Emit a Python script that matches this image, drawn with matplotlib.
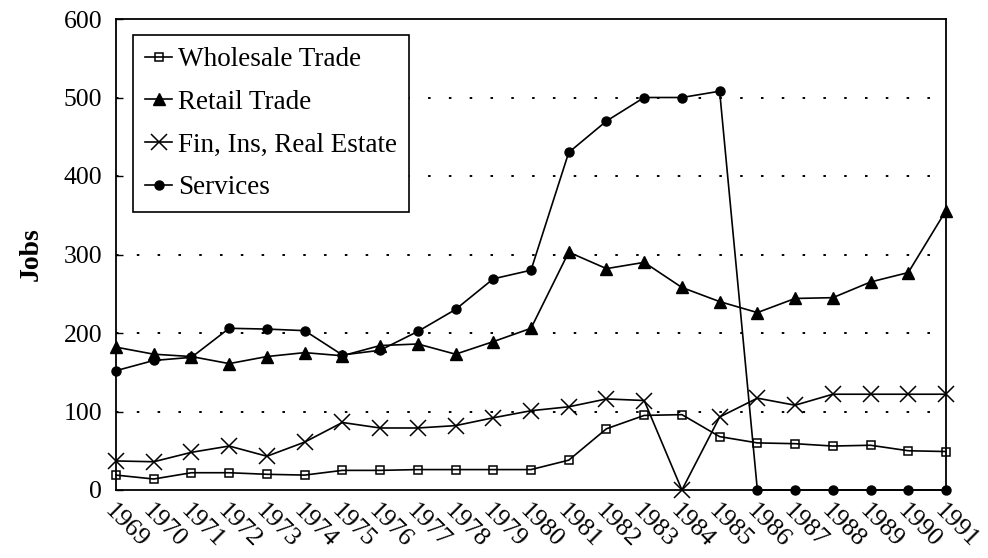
import matplotlib
matplotlib.use("Agg")
import matplotlib.pyplot as plt
from matplotlib.lines import Line2D

years = list(range(1969, 1992))
year_labels = [str(y) for y in years]

wholesale = [19, 14, 22, 22, 20, 19, 25, 25, 26, 26, 26, 26, 38, 78, 95, 96, 68, 60, 59, 56, 57, 50, 49]
retail = [182, 173, 170, 161, 170, 175, 171, 184, 186, 173, 189, 206, 303, 282, 290, 258, 240, 226, 244, 245, 265, 277, 356]
fire = [37, 36, 48, 56, 43, 61, 86, 79, 79, 82, 92, 101, 106, 116, 114, 0, 93, 117, 108, 122, 122, 122, 122]
services = [152, 165, 169, 206, 205, 203, 172, 178, 202, 230, 269, 280, 430, 470, 500, 500, 508, 0, 0, 0, 0, 0, 0]

series_names = ["Wholesale Trade", "Retail Trade", "Fin, Ins, Real Estate", "Services"]
y_ticks = [0, 100, 200, 300, 400, 500, 600]

plt.rcParams['font.family'] = ['Liberation Serif', 'DejaVu Serif']

fig = plt.figure(figsize=(9.88, 5.58), dpi=100)
ax = fig.add_axes([116/988, 1-490/558, (946-116)/988, (490-19)/558])

# dotted gridlines
for v in y_ticks[1:-1]:
    ax.axhline(v, color='black', linewidth=1.4, linestyle=(0, (1.3, 9.4)), zorder=1)

lw = 1.2
styles = [
    dict(marker='s', ms=6, mfc='none', mec='black', mew=1.1),
    dict(marker='^', ms=8.5, mfc='black', mec='black'),
    dict(marker='x', ms=11, mew=1.1),
    dict(marker='o', ms=6.5, mfc='black', mec='black'),
]
for data, st in zip([wholesale, retail, fire, services], styles):
    ax.plot(years, data, color='black', lw=lw, zorder=3, clip_on=False, **st)

ax.set_xlim(1969, 1991)
ax.set_ylim(0, 600)
ax.set_yticks(y_ticks)
ax.set_yticklabels([str(v) for v in y_ticks], fontsize=18.5)
ax.set_xticks(years)
ax.set_xticklabels(year_labels, fontsize=18.5, rotation=-45, ha='left', va='top', rotation_mode='anchor')
ax.tick_params(axis='y', direction='in', length=5, width=1, pad=10)
ax.tick_params(axis='x', length=0, pad=7)
for s in ax.spines.values():
    s.set_linewidth(1.3)
    s.set_color('black')
ax.set_ylabel("Jobs", fontsize=20, fontweight='bold', labelpad=14)

handles = [Line2D([], [], color='black', lw=lw, **st) for st in styles]
leg = ax.legend(handles, series_names, loc='upper left', bbox_to_anchor=(0.0205, 0.966),
                fontsize=19.5, frameon=True, fancybox=False, framealpha=1, edgecolor='black',
                handlelength=1.0, handletextpad=0.2, labelspacing=0.65, borderaxespad=0,
                borderpad=0.45)
leg.get_frame().set_linewidth(1.2)
leg.set_zorder(5)

fig.savefig("out.png", dpi=100, facecolor='white')
